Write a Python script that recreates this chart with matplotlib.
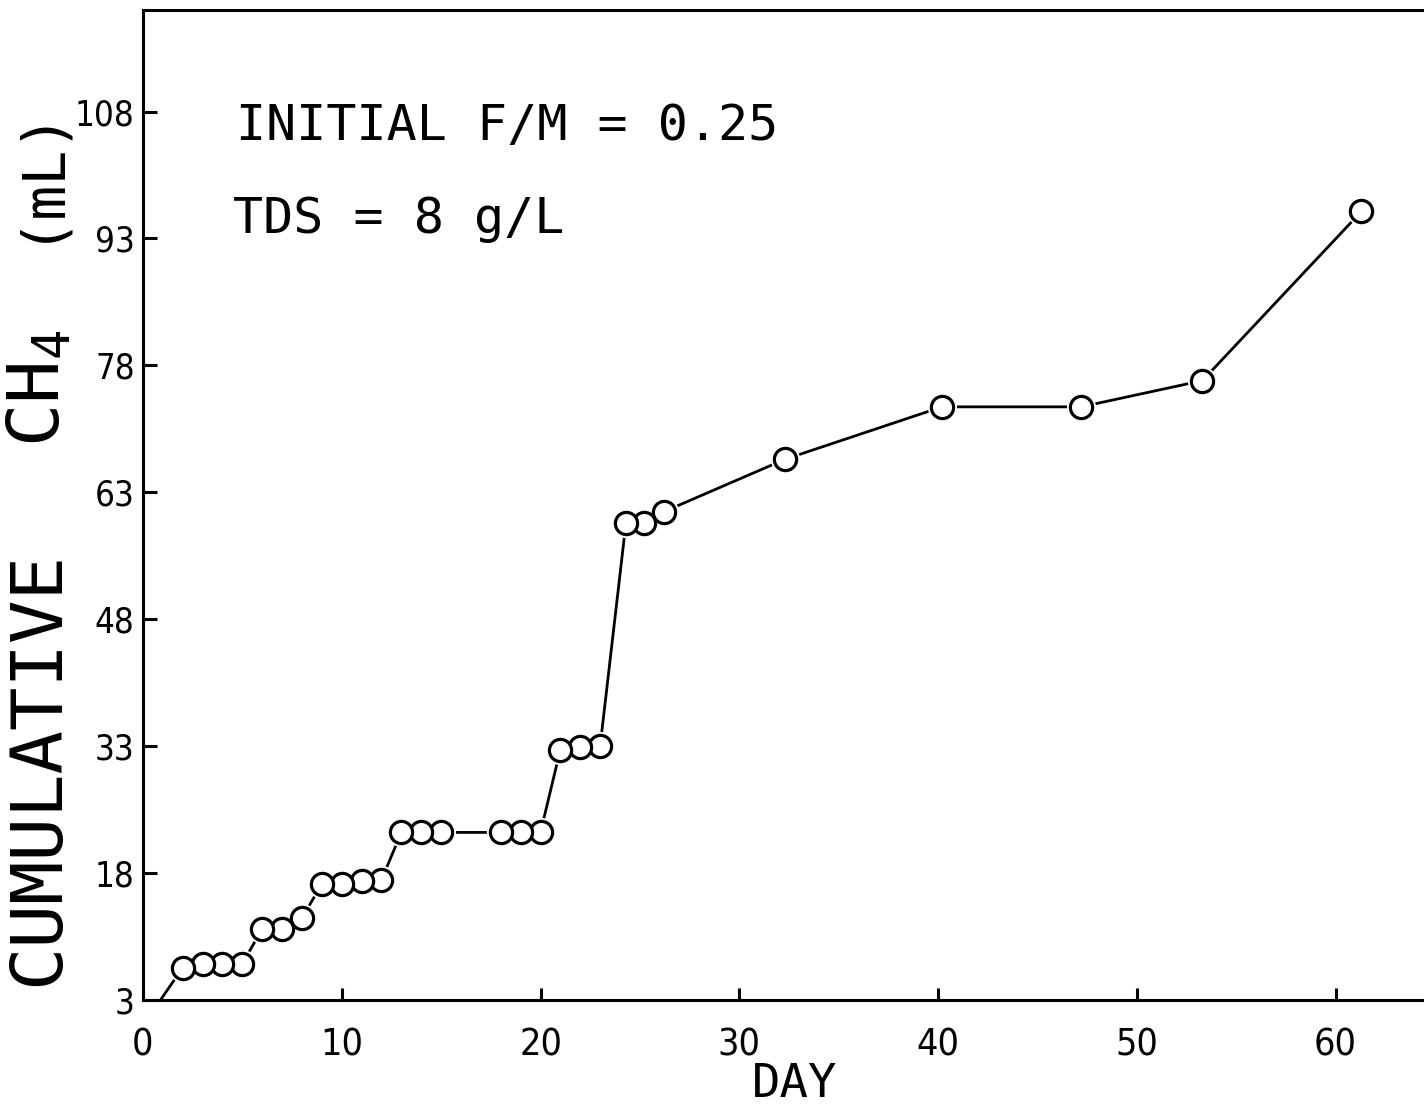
import matplotlib
matplotlib.use("Agg")
from matplotlib import pyplot as plt

# cumulative methane production, initial F/M = 0.25, TDS = 8 g/L
days = [0, 2, 3, 4, 5, 6, 7, 8, 9, 10, 11, 12, 13, 14, 15, 18, 19, 20,
        21, 22, 23, 24.3, 25.2, 26.2, 32.3, 40.2, 47.2, 53.3, 61.3]
methane = [0, 6.8, 7.3, 7.3, 7.3, 11.4, 11.4, 12.7, 16.7, 16.7, 17.0, 17.2,
           22.8, 22.8, 22.8, 22.8, 22.8, 22.8, 32.6, 32.9, 33.0, 59.4, 59.4,
           60.7, 66.9, 73.1, 73.1, 76.2, 96.2]

x_ticks = [0, 10, 20, 30, 40, 50, 60]
y_ticks = [3, 18, 33, 48, 63, 78, 93, 108]

plt.rcParams["mathtext.fontset"] = "custom"
plt.rcParams["mathtext.rm"] = "DejaVu Sans Mono"
plt.rcParams["mathtext.it"] = "DejaVu Sans Mono"

LABEL_FONT = "DejaVu Sans Mono"
TICK_FONT = "DejaVu Sans"


def display():
    """Plots cumulative CH4 against day"""
    fig = plt.figure(figsize=(14.24, 11.16), dpi=100)
    ax = fig.add_axes([0.1004, 0.104, 0.9073, 0.887])

    # connecting line, with a white collar round each point so the
    # segments stop just short of the circles
    ax.plot(days, methane, color="black", lw=2.0, zorder=2)
    ax.plot(days, methane, ls="none", marker="o", ms=21, mfc="white",
            mec="white", mew=0, zorder=3)
    # circles drawn last-to-first so each earlier one sits on top
    ax.plot(days[::-1], methane[::-1], ls="none", marker="o", ms=16,
            mfc="white", mec="black", mew=2.3, zorder=4)

    ax.set_xlim(0, 65)
    ax.set_ylim(3, 120)
    ax.set_xticks(x_ticks)
    ax.set_yticks(y_ticks)
    ax.set_xticklabels([str(t) for t in x_ticks], family=TICK_FONT,
                       stretch="condensed", fontsize=27)
    ax.set_yticklabels([str(t) for t in y_ticks], family=TICK_FONT,
                       stretch="condensed", fontsize=25)
    ax.tick_params(axis="both", direction="in", width=2.2)
    ax.tick_params(axis="x", length=9, pad=20)
    ax.tick_params(axis="y", length=10, pad=6)

    for side in ["left", "bottom", "top"]:
        ax.spines[side].set_linewidth(2.2)
    ax.spines["right"].set_visible(False)

    fig.text(0.558, 0.028, "DAY", family=LABEL_FONT, fontsize=34,
             ha="center", va="center")

    # y label set in three pieces along the left edge
    ylab = dict(family=LABEL_FONT, rotation=90, ha="center", va="center")
    fig.text(0.027, 1 - 768 / 1116, "CUMULATIVE", fontsize=52, **ylab)
    fig.text(0.027, 1 - 388 / 1116, "CH$_4$", fontsize=52, **ylab)
    fig.text(0.026, 1 - 172 / 1116, "(mL)", fontsize=42, **ylab)

    ax.text(0.072, 0.883, "INITIAL F/M = 0.25", transform=ax.transAxes,
            family=LABEL_FONT, fontsize=36, va="center")
    ax.text(0.07, 0.789, "TDS = 8 g/L", transform=ax.transAxes,
            family=LABEL_FONT, fontsize=36, va="center")

    fig.savefig("out.png", dpi=100)


if __name__ == "__main__":
    display()
